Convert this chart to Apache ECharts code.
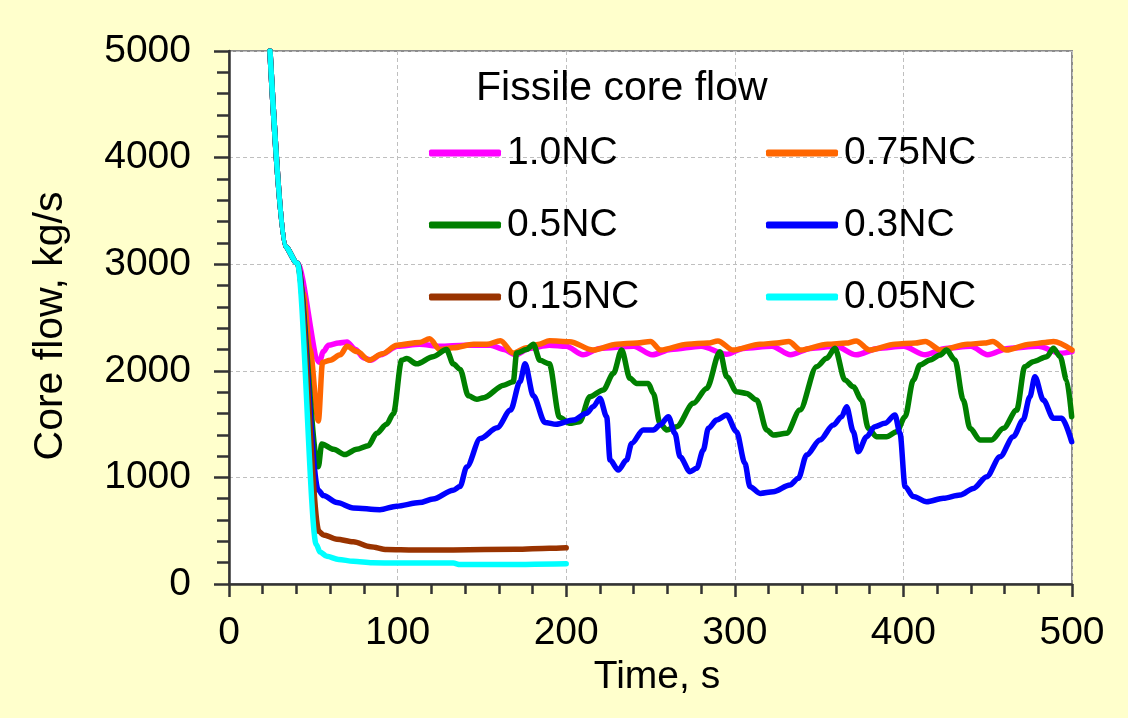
<!DOCTYPE html>
<html>
<head>
<meta charset="utf-8">
<script src="https://cdn.jsdelivr.net/npm/echarts@6/dist/echarts.min.js"></script>
<style>
  html, body { margin: 0; padding: 0; background: #FFFFCC; }
  #chart { width: 1128px; height: 718px; }
</style>
</head>
<body>
<div id="chart"></div>
<script>
// Fissile core flow [time s, flow kg/s] for each natural-circulation case
const flow10NC = [[24.3,5000],[33.2,3167],[40.5,3010],[53.5,2080],[56,2180],[59,2240],[65,2260],[70,2270],[75,2200],[80,2120],[84,2100],[90,2150],[100,2230],[113,2250],[125,2230],[140,2240],[155,2240],[163,2200],[170,2150],[178,2210],[190,2240],[200,2230],[210,2150],[220,2210],[240,2230],[251,2150],[262,2200],[280,2230],[295,2155],[305,2210],[322,2230],[333,2150],[345,2210],[360,2230],[372,2150],[385,2210],[400,2230],[413,2150],[425,2210],[440,2230],[450,2150],[462,2210],[480,2230],[493,2165],[500,2180]];
const flow075NC = [[24.3,5000],[33.2,3167],[40.5,3010],[44,2730],[48,2200],[53,1530],[55.5,2080],[60,2100],[66,2150],[70,2230],[76,2180],[83,2100],[91,2160],[99.5,2240],[113,2266],[119,2300],[125,2200],[133,2216],[145,2249],[153,2249],[161,2282],[168.6,2166],[176.5,2216],[184,2249],[190,2282],[202,2273],[216,2195],[230,2250],[242,2260],[250,2275],[256,2195],[272,2250],[284,2260],[290,2280],[299,2195],[315,2250],[325,2260],[332,2275],[339,2195],[355,2250],[366,2260],[372,2280],[380,2195],[395,2250],[407,2260],[413,2275],[422,2195],[438,2250],[448,2260],[453,2275],[461,2195],[475,2250],[484,2265],[489,2275],[500,2195]];
const flow05NC = [[24.3,5000],[33.2,3167],[40.5,3010],[53,1100],[55,1314],[62,1264],[68.8,1214],[75.7,1264],[82.6,1298],[87.6,1414],[93.5,1498],[97.5,1598],[102.4,2099],[105.4,2115],[111.3,2065],[121,2132],[129,2199],[133,2065],[137,2015],[142,1765],[147,1732],[151,1748],[163,1865],[168.6,1898],[170.6,2166],[176.5,2199],[180.5,2249],[184.4,2099],[190,2065],[196,1565],[202,1507],[208,1523],[214,1757],[222,1820],[228,1976],[232.9,2195],[237.8,1929],[241.8,1882],[248.7,1882],[251.7,1788],[255.6,1507],[259.6,1445],[265.5,1476],[275.4,1695],[283.3,1835],[291.2,2179],[295.2,1945],[301,1804],[307,1788],[313,1726],[318.9,1445],[322.8,1398],[330.7,1413],[338.6,1632],[348.5,2039],[354.5,2117],[359.4,2211],[365.3,1914],[370.3,1851],[375.2,1726],[379.2,1460],[384,1382],[390,1382],[396,1429],[401,1570],[405.9,1914],[409.8,2054],[415.8,2101],[421.7,2148],[425.6,2195],[430.6,2101],[435.5,1726],[439.5,1460],[445.4,1351],[452.3,1351],[459.3,1460],[467.2,1632],[472,2039],[477,2086],[485,2132],[489,2211],[493,2132],[496.8,1914],[499.8,1570]];
const flow03NC = [[24.3,5000],[33.2,3167],[40.5,3010],[53,880],[56,830],[64,764],[73.7,714],[89.5,697],[99.4,730],[113,764],[121,797],[133,880],[137,914],[141,1098],[149,1364],[159,1465],[167,1632],[172.6,1898],[175.6,2065],[180.5,1765],[187.4,1515],[194,1498],[204.2,1538],[212.1,1601],[216,1663],[220,1742],[224,1570],[226,1163],[230.9,1069],[235.8,1163],[238.8,1319],[245.7,1445],[251.7,1445],[255.6,1491],[260.6,1570],[264.5,1413],[267.5,1194],[273.4,1054],[277.4,1085],[281.3,1257],[284.3,1460],[289.2,1538],[295.2,1585],[301,1429],[306,1132],[309,913],[315,850],[322.8,866],[332.7,929],[337.7,991],[342.6,1210],[350.5,1351],[358.4,1491],[363.4,1570],[366.3,1663],[370.3,1429],[373.2,1241],[378.2,1382],[383,1476],[389,1507],[395,1585],[398,1413],[401,913],[405.9,820],[413.8,772],[423.7,804],[433.6,835],[441.5,897],[449.4,1007],[457.3,1194],[465.2,1382],[471,1538],[475,1757],[478,1945],[483,1726],[489,1554],[494,1554],[499.8,1335]];
const flow015NC = [[24.3,5000],[33.2,3167],[40.5,3010],[53.5,490],[56,460],[64,420],[73.7,396],[84,350],[93.5,323],[110,318],[133,320],[170,325],[190,335],[200,340]];
const flow005NC = [[24.3,5000],[33.2,3167],[40.5,3010],[51.8,370],[54,300],[58,260],[65,230],[73.7,213],[85,200],[99.4,196],[133,196],[137,182],[160,182],[200,190]];

const caseNames = ['1.0NC', '0.75NC', '0.5NC', '0.3NC', '0.15NC', '0.05NC'];
const caseData = [flow10NC, flow075NC, flow05NC, flow03NC, flow015NC, flow005NC];
const caseColors = ['#FF00FF', '#FF6600', '#008000', '#0000FF', '#993300', '#00FFFF'];

const FONT = "'Liberation Sans', Arial, sans-serif";
const FS = 39;
const AXIS_COLOR = '#333333';

const chart = echarts.init(document.getElementById('chart'), null, { renderer: 'canvas' });

const legendBase = {
  orient: 'vertical',
  top: 133,
  padding: 0,
  itemWidth: 72,
  itemHeight: 7,
  itemGap: 32,
  icon: 'roundRect',
  textStyle: { fontFamily: FONT, fontSize: FS, color: '#000', lineHeight: 40, padding: [0, 0, 0, 1] }
};

// Secondary axes only carry the fine (minor) tick marks
const minorAxis = (interval, max, len, pos) => ({
  type: 'value',
  position: pos,
  min: 0, max: max, interval: interval,
  axisLine: { show: false, onZero: false },
  axisTick: { show: true, inside: false, length: len, lineStyle: { color: AXIS_COLOR, width: 2.5 } },
  axisLabel: { show: false },
  splitLine: { show: false }
});

chart.setOption({
  backgroundColor: '#FFFFCC',
  animation: false,
  title: {
    text: 'Fissile core flow',
    left: 476,
    top: 68,
    padding: 0,
    textStyle: { fontFamily: FONT, fontSize: 41, fontWeight: 'normal', color: '#000' }
  },
  legend: [
    Object.assign({}, legendBase, { left: 429, data: ['1.0NC', '0.5NC', '0.15NC'] }),
    Object.assign({}, legendBase, { left: 766, data: ['0.75NC', '0.3NC', '0.05NC'] })
  ],
  graphic: [{
    // y-axis title, reading bottom to top
    type: 'text',
    x: 51,
    y: 326,
    rotation: Math.PI / 2,
    style: {
      text: 'Core flow, kg/s',
      fontFamily: FONT,
      fontSize: 41,
      fill: '#000',
      align: 'center',
      verticalAlign: 'middle'
    }
  }],
  grid: {
    left: 229, top: 51, right: 56, bottom: 134,
    show: true,
    backgroundColor: '#FFFFFF',
    borderColor: '#8C8C8C',
    borderWidth: 2
  },
  xAxis: [{
    type: 'value',
    position: 'bottom',
    min: 0, max: 500, interval: 100,
    name: 'Time, s',
    nameLocation: 'middle',
    nameGap: 68,
    nameTextStyle: { fontFamily: FONT, fontSize: FS, color: '#000', padding: [0, 0, 0, 13] },
    axisLine: { onZero: false, lineStyle: { color: AXIS_COLOR, width: 2.5 } },
    axisTick: { show: true, inside: false, length: 13, lineStyle: { color: AXIS_COLOR, width: 2.5 } },
    axisLabel: { fontFamily: FONT, fontSize: FS, color: '#000', margin: 30, formatter: v => String(v) },
    splitLine: { show: true, lineStyle: { color: '#BFBFBF', width: 1, type: [4, 3] } }
  }, minorAxis(20, 500, 10, 'bottom')],
  yAxis: [{
    type: 'value',
    position: 'left',
    min: 0, max: 5000, interval: 1000,
    axisLine: { show: true, onZero: false, lineStyle: { color: AXIS_COLOR, width: 2.5 } },
    axisTick: { show: true, inside: false, length: 15, lineStyle: { color: AXIS_COLOR, width: 2.5 } },
    axisLabel: { fontFamily: FONT, fontSize: FS, color: '#000', margin: 38, formatter: v => String(v) },
    splitLine: { show: true, lineStyle: { color: '#BFBFBF', width: 1, type: [4, 3] } }
  }, minorAxis(200, 5000, 12, 'left')],
  series: caseNames.map((name, i) => ({
    name: name,
    type: 'line',
    xAxisIndex: 0,
    yAxisIndex: 0,
    data: caseData[i],
    showSymbol: false,
    symbol: 'none',
    smooth: 0.3,
    smoothMonotone: 'x',
    clip: true,
    color: caseColors[i],
    lineStyle: { color: caseColors[i], width: 5.5, cap: 'round', join: 'round' }
  }))
});
</script>
</body>
</html>
